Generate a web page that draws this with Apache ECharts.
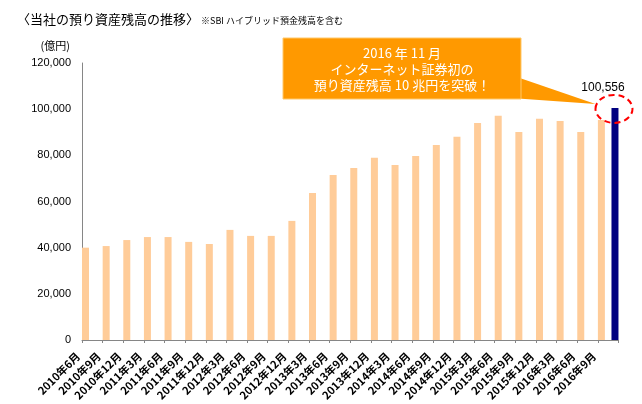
<!DOCTYPE html>
<html><head><meta charset="utf-8">
<script src="https://cdn.jsdelivr.net/npm/echarts@6/dist/echarts.min.js"></script>
<style>html,body{margin:0;padding:0;background:#fff}#c{width:642px;height:404px}</style>
</head><body><div id="c"></div>
<script>
const categories = ['2010年6月','2010年9月','2010年12月','2011年3月','2011年6月','2011年9月','2011年12月',
  '2012年3月','2012年6月','2012年9月','2012年12月','2013年3月','2013年6月','2013年9月','2013年12月',
  '2014年3月','2014年6月','2014年9月','2014年12月','2015年3月','2015年6月','2015年9月','2015年12月',
  '2016年3月','2016年6月','2016年9月'];
const balances = [40000,40700,43300,44600,44600,42500,41600,47700,45100,45100,51600,63700,71500,
  74500,78900,75800,79700,84500,88000,94000,97100,90100,95800,94900,90100,95300];
const milestoneCategory = '2016年9月';
const milestoneValue = 100556;
const yMin = 0, yMax = 120000, yInterval = 20000;
const titleText = '〈当社の預り資産残高の推移〉';
const noteText = '※SBI ハイブリッド預金残高を含む';
const unitText = '(億円)';
const calloutLines = ['2016 年 11 月', 'インターネット証券初の', '預り資産残高 10 兆円を突破！'];

const milestoneData = categories.map(c => c === milestoneCategory ? milestoneValue : '-');
const fmt = v => String(v).replace(/\B(?=(\d{3})+(?!\d))/g, ',');
const JP = '"Noto Sans CJK JP", "Noto Sans", sans-serif';
const chart = echarts.init(document.getElementById('c'), null, {renderer: 'canvas'});
chart.setOption({
  animation: false,
  backgroundColor: '#fff',
  title: {
    left: 12, top: 8,
    text: '{a|' + titleText + '}{b| ' + noteText + '}',
    textStyle: {
      fontWeight: 'normal',
      rich: {
        a: {fontSize: 13, fontWeight: 'normal', color: '#000', fontFamily: JP},
        b: {fontSize: 9, fontWeight: 'normal', color: '#000', fontFamily: JP, padding: [2, 0, 0, 0]}
      }
    }
  },
  grid: {left: 82, right: 23.5, top: 63, bottom: 64},
  xAxis: {
    type: 'category', data: categories, boundaryGap: true,
    axisLine: {lineStyle: {color: '#868686', width: 1}},
    axisTick: {show: true, length: 3, lineStyle: {color: '#868686'}},
    axisLabel: {interval: 0, rotate: 45, margin: 0, padding: [0, 20, 0, 0],
      fontSize: 11, fontWeight: 'bold', color: '#000', fontFamily: JP}
  },
  yAxis: {
    type: 'value', min: yMin, max: yMax, interval: yInterval,
    name: unitText, nameLocation: 'end', nameGap: 17,
    nameTextStyle: {align: 'right', verticalAlign: 'middle', padding: [0, 12, 0, 0], fontSize: 11, color: '#000', fontFamily: JP},
    axisLine: {show: true, lineStyle: {color: '#868686', width: 1}},
    axisTick: {show: false},
    splitLine: {show: false},
    axisLabel: {margin: 11, fontSize: 11, color: '#000', fontFamily: '"Liberation Sans", Arial, sans-serif', formatter: fmt}
  },
  series: [
    {type: 'bar', data: balances, barWidth: 7, barGap: '94%', itemStyle: {color: '#FFCC99'}},
    {type: 'bar', data: milestoneData, barWidth: 7, barGap: '94%', itemStyle: {color: '#000080'},
      label: {show: true, position: 'top', distance: 14, offset: [-12, 0], formatter: p => fmt(p.value),
        fontSize: 12, color: '#000', fontFamily: '"Liberation Sans", Arial, sans-serif'}}
  ]
});

const mi = categories.indexOf(milestoneCategory);
const c0 = chart.convertToPixel({xAxisIndex: 0}, categories[0]);
const c1 = chart.convertToPixel({xAxisIndex: 0}, categories[1]);
const catW = c1 - c0;
const barTop = chart.convertToPixel({xAxisIndex: 0, yAxisIndex: 0}, [mi, milestoneValue]);
const barX = barTop[0] + catW * 0.33;
const barY = barTop[1];
const boxX = 283, boxY = 38, boxW = 238, boxH = 61;
chart.setOption({
  graphic: [
    {type: 'polygon', z: 100, shape: {points: [[boxX + boxW - 10, 75], [boxX + boxW - 10, 98], [barX - 19.5, barY - 4]]},
      style: {fill: '#FF9900'}},
    {type: 'rect', z: 101, shape: {x: boxX, y: boxY, width: boxW, height: boxH},
      style: {fill: '#FF9900', stroke: '#FFC86B', lineWidth: 1}},
    {type: 'text', z: 102, style: {text: calloutLines.join('\n'), x: boxX + boxW / 2, y: boxY + boxH / 2 + 1,
      align: 'center', verticalAlign: 'middle', fill: '#fff', font: '13px ' + JP, lineHeight: 16}},
    {type: 'ellipse', z: 103, shape: {cx: barX - 1, cy: barY + 1, rx: 18.5, ry: 14},
      style: {fill: 'none', stroke: '#FF0000', lineWidth: 2, lineDash: [6, 4]}}
  ]
});
</script>
</body></html>
